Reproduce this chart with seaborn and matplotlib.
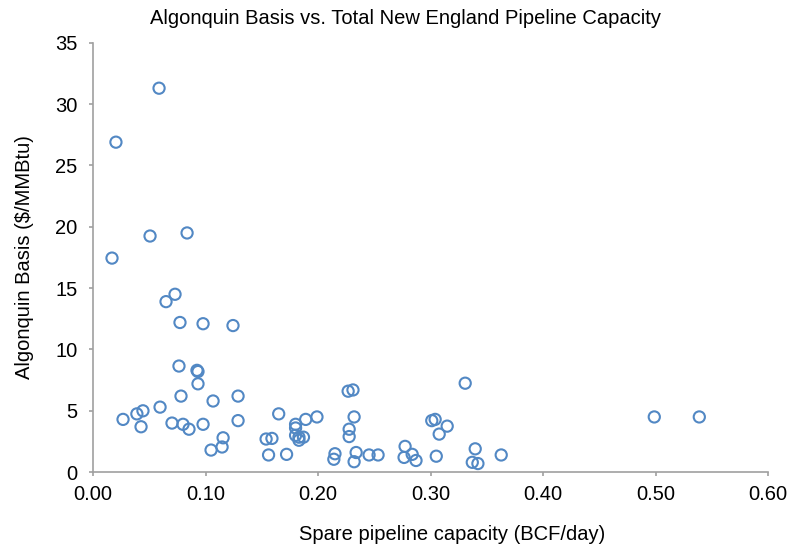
import numpy as np
import pandas as pd
import seaborn as sns
import matplotlib.pyplot as plt

# spare pipeline capacity (BCF/day) and Algonquin basis ($/MMBtu)
spare_cap = [0.0587, 0.0204, 0.0169, 0.0507, 0.0836, 0.0729, 0.0649, 0.0773, 0.0978,
             0.1244, 0.0764, 0.0924, 0.0933, 0.0933, 0.0782, 0.1067, 0.1289, 0.0596,
             0.0444, 0.0390, 0.0267, 0.0427, 0.0702, 0.0800, 0.0853, 0.0978, 0.1289,
             0.1156, 0.1147, 0.1049, 0.1538, 0.1590, 0.1560, 0.1650, 0.1720, 0.1800,
             0.1800, 0.1800, 0.1830, 0.1830, 0.1870, 0.1890, 0.1990, 0.2150, 0.2140,
             0.2267, 0.2310, 0.2320, 0.2276, 0.2276, 0.2338, 0.2320, 0.2453, 0.2533,
             0.2773, 0.2764, 0.2836, 0.2870, 0.3010, 0.3040, 0.3076, 0.3147, 0.3050,
             0.3307, 0.3396, 0.3370, 0.3420, 0.3627, 0.4987, 0.5387]
basis = [31.3, 26.9, 17.45, 19.25, 19.5, 14.5, 13.9, 12.2, 12.1,
         11.95, 8.65, 8.3, 8.2, 7.2, 6.2, 5.8, 6.2, 5.3,
         5.0, 4.75, 4.3, 3.7, 4.0, 3.9, 3.5, 3.9, 4.2,
         2.8, 2.05, 1.8, 2.7, 2.75, 1.4, 4.75, 1.45, 3.9,
         3.6, 3.0, 2.85, 2.6, 2.85, 4.3, 4.5, 1.5, 1.05,
         6.6, 6.7, 4.5, 3.5, 2.9, 1.6, 0.85, 1.4, 1.4,
         2.1, 1.2, 1.45, 0.95, 4.2, 4.3, 3.1, 3.75, 1.3,
         7.25, 1.9, 0.8, 0.7, 1.4, 4.5, 4.5]

df = pd.DataFrame({'Spare': spare_cap, 'Basis': basis})

sns.set_style('white')
plt.rcParams['font.family'] = ['Liberation Sans', 'DejaVu Sans']
plt.rcParams['text.color'] = 'black'
plt.rcParams['axes.labelcolor'] = 'black'

fig = plt.figure(figsize=(7.88, 5.49), dpi=100)
ax = fig.add_axes([0.118, 0.140, 0.857, 0.782])
sns.scatterplot(x='Spare', y='Basis', data=df, ax=ax,
                marker='o', s=65, facecolors='none', edgecolor='#5288c4',
                linewidth=1.5)

ax.set_xlim(0, 0.6)
ax.set_ylim(0, 35)
ax.set_xticks(np.arange(0, 0.61, 0.1))
ax.set_xticklabels(['%.2f' % v for v in np.arange(0, 0.61, 0.1)])
ax.set_yticks(np.arange(0, 36, 5))

ax.spines['top'].set_visible(False)
ax.spines['right'].set_visible(False)
for s in ['left', 'bottom']:
    ax.spines[s].set_color('#a0a0a0')
    ax.spines[s].set_linewidth(1.2)
ax.tick_params(axis='both', which='major', direction='out', length=3, width=1.2,
               color='#a0a0a0', labelsize=14.5, labelcolor='black',
               left=True, bottom=True)
ax.tick_params(axis='x', pad=6)
ax.tick_params(axis='y', pad=8)

ax.set_xlabel('Spare pipeline capacity (BCF/day)', fontsize=14.5)
ax.xaxis.set_label_coords(0.532, -0.124)
ax.set_ylabel('Algonquin Basis ($/MMBtu)', fontsize=14.5, labelpad=15)
fig.text(0.514, 0.967, 'Algonquin Basis vs. Total New England Pipeline Capacity',
         fontsize=14.5, ha='center', va='center')

fig.savefig('out.png', dpi=100)
